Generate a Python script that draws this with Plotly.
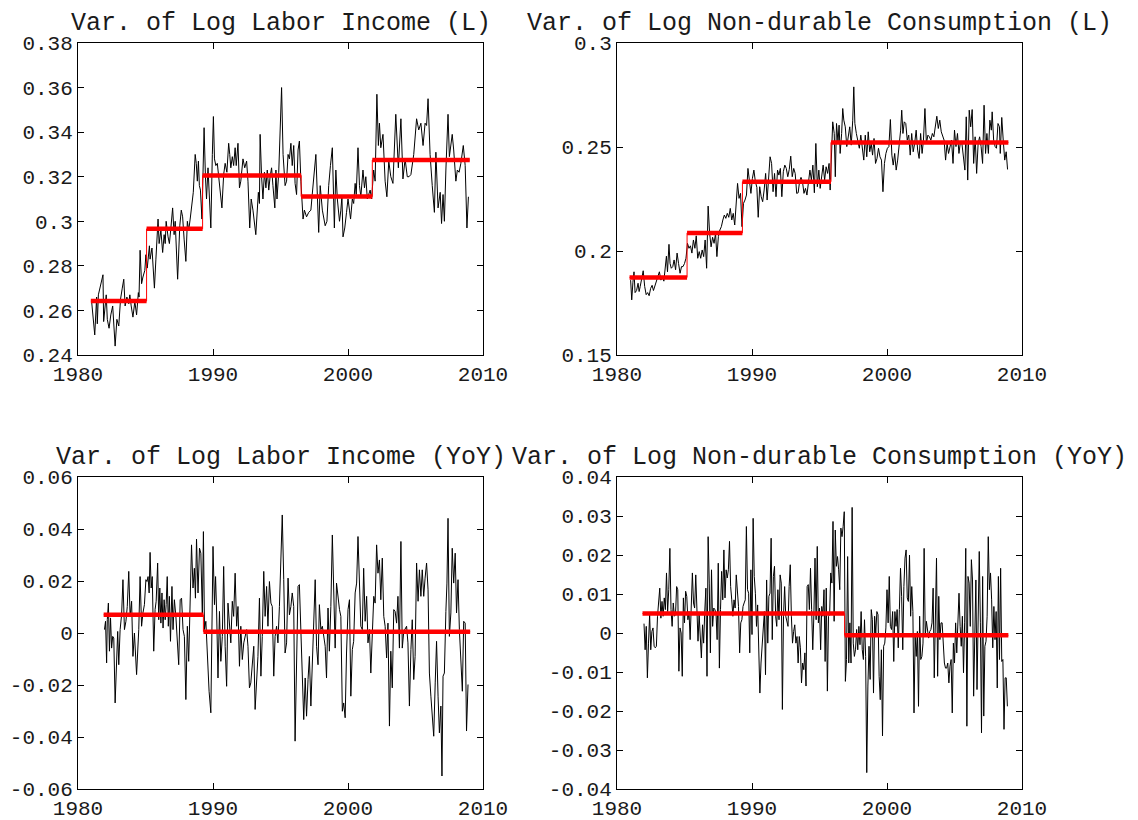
import numpy as np
import plotly.graph_objects as go

# ---------------- Variance of log labor income, levels ----------------
t_inc_lvl = [
    1981.01, 1981.24, 1981.38, 1981.43, 1981.51, 1981.64, 1981.72, 1981.85, 1981.90, 1981.98,
    1982.09, 1982.17, 1982.30, 1982.43, 1982.57, 1982.75, 1982.88, 1983.02, 1983.15, 1983.28,
    1983.39, 1983.49, 1983.62, 1983.76, 1983.84, 1983.94, 1984.07, 1984.21, 1984.34, 1984.47,
    1984.52, 1984.60, 1984.71, 1984.81, 1984.95, 1985.03, 1985.13, 1985.29, 1985.34, 1985.48,
    1985.66, 1985.77, 1985.93, 1986.01, 1986.14, 1986.27, 1986.38, 1986.46, 1986.53, 1986.67,
    1986.77, 1986.88, 1987.01, 1987.12, 1987.20, 1987.38, 1987.54, 1987.65, 1987.75, 1987.86,
    1987.99, 1988.10, 1988.20, 1988.31, 1988.47, 1988.54, 1988.68, 1988.76, 1988.84, 1988.92,
    1988.99, 1989.07, 1989.18, 1989.34, 1989.44, 1989.52, 1989.63, 1989.74, 1989.84, 1989.95,
    1990.03, 1990.11, 1990.21, 1990.32, 1990.42, 1990.53, 1990.66, 1990.79, 1990.90, 1991.03,
    1991.16, 1991.24, 1991.32, 1991.43, 1991.53, 1991.64, 1991.72, 1991.85, 1991.96, 1992.06,
    1992.22, 1992.35, 1992.49, 1992.59, 1992.72, 1992.83, 1992.96, 1993.17, 1993.28, 1993.36,
    1993.44, 1993.49, 1993.60, 1993.70, 1993.81, 1993.92, 1994.02, 1994.13, 1994.23, 1994.34,
    1994.44, 1994.58, 1994.66, 1994.74, 1994.87, 1995.08, 1995.19, 1995.26, 1995.34, 1995.45,
    1995.56, 1995.66, 1995.77, 1995.87, 1995.98, 1996.08, 1996.19, 1996.30, 1996.40, 1996.51,
    1996.67, 1996.77, 1996.93, 1997.09, 1997.25, 1997.35, 1997.46, 1997.62, 1997.83, 1997.94,
    1998.10, 1998.31, 1998.44, 1998.57, 1998.70, 1998.84, 1998.99, 1999.10, 1999.21, 1999.37,
    1999.47, 1999.55, 1999.63, 1999.76, 1999.89, 2000.00, 2000.11, 2000.19, 2000.32, 2000.42,
    2000.53, 2000.61, 2000.74, 2000.85, 2000.95, 2001.11, 2001.22, 2001.32, 2001.43, 2001.53,
    2001.64, 2001.75, 2001.90, 2002.01, 2002.14, 2002.25, 2002.33, 2002.43, 2002.59, 2002.75,
    2002.88, 2003.02, 2003.17, 2003.33, 2003.44, 2003.54, 2003.73, 2003.92, 2004.07, 2004.23,
    2004.39, 2004.52, 2004.66, 2004.87, 2005.08, 2005.24, 2005.40, 2005.56, 2005.71, 2005.82,
    2005.93, 2006.08, 2006.24, 2006.40, 2006.51, 2006.67, 2006.83, 2006.93, 2007.04, 2007.14,
    2007.25, 2007.41, 2007.51, 2007.72, 2007.83, 2007.99, 2008.10, 2008.23, 2008.36, 2008.54,
    2008.68, 2008.81, 2008.92,
]
var_inc_lvl = [
    0.264, 0.249, 0.266, 0.254, 0.267, 0.270, 0.273, 0.276, 0.255, 0.262,
    0.267, 0.256, 0.252, 0.258, 0.262, 0.244, 0.256, 0.253, 0.265, 0.270,
    0.274, 0.262, 0.266, 0.263, 0.267, 0.262, 0.257, 0.264, 0.258, 0.268,
    0.266, 0.287, 0.272, 0.275, 0.278, 0.285, 0.279, 0.289, 0.283, 0.288,
    0.270, 0.283, 0.301, 0.290, 0.296, 0.286, 0.294, 0.290, 0.300, 0.293,
    0.290, 0.297, 0.306, 0.294, 0.300, 0.274, 0.298, 0.305, 0.302, 0.292,
    0.282, 0.300, 0.296, 0.301, 0.308, 0.313, 0.330, 0.326, 0.318, 0.327,
    0.316, 0.314, 0.301, 0.342, 0.320, 0.310, 0.324, 0.312, 0.297, 0.330,
    0.347, 0.328, 0.325, 0.326, 0.320, 0.312, 0.306, 0.321, 0.326, 0.322,
    0.335, 0.330, 0.324, 0.329, 0.325, 0.333, 0.325, 0.335, 0.315, 0.318,
    0.328, 0.324, 0.327, 0.318, 0.297, 0.310, 0.305, 0.294, 0.303, 0.313,
    0.308, 0.339, 0.320, 0.310, 0.322, 0.315, 0.323, 0.314, 0.320, 0.324,
    0.316, 0.306, 0.323, 0.310, 0.322, 0.360, 0.330, 0.323, 0.316, 0.318,
    0.330, 0.328, 0.335, 0.325, 0.334, 0.317, 0.312, 0.332, 0.336, 0.318,
    0.301, 0.305, 0.302, 0.304, 0.305, 0.312, 0.319, 0.330, 0.295, 0.316,
    0.305, 0.298, 0.300, 0.316, 0.325, 0.333, 0.297, 0.323, 0.310, 0.300,
    0.305, 0.311, 0.293, 0.297, 0.304, 0.310, 0.305, 0.301, 0.310, 0.308,
    0.317, 0.312, 0.333, 0.316, 0.311, 0.323, 0.315, 0.320, 0.310, 0.312,
    0.314, 0.310, 0.323, 0.318, 0.357, 0.334, 0.344, 0.333, 0.339, 0.318,
    0.311, 0.327, 0.320, 0.317, 0.335, 0.348, 0.324, 0.346, 0.319, 0.328,
    0.320, 0.320, 0.321, 0.330, 0.346, 0.341, 0.344, 0.334, 0.344, 0.343,
    0.355, 0.330, 0.316, 0.304, 0.331, 0.306, 0.313, 0.299, 0.312, 0.300,
    0.323, 0.348, 0.329, 0.339, 0.332, 0.318, 0.323, 0.322, 0.326, 0.334,
    0.325, 0.297, 0.311,
]
inc_lvl_breaks = [1980.95, 1985.08, 1989.23, 1996.53, 2001.80, 2009.02]
inc_lvl_means = [0.2642, 0.2966, 0.3206, 0.3111, 0.3275]

# ------------- Variance of log non-durable consumption, levels -------------
t_cons_lvl = [
    1981.01, 1981.09, 1981.18, 1981.26, 1981.34, 1981.45, 1981.56, 1981.64, 1981.72, 1981.83,
    1981.94, 1982.05, 1982.16, 1982.27, 1982.38, 1982.49, 1982.60, 1982.70, 1982.81, 1982.92,
    1983.03, 1983.14, 1983.25, 1983.36, 1983.47, 1983.58, 1983.66, 1983.74, 1983.85, 1983.93,
    1984.02, 1984.13, 1984.23, 1984.34, 1984.45, 1984.56, 1984.67, 1984.78, 1984.89, 1985.00,
    1985.11, 1985.22, 1985.33, 1985.44, 1985.55, 1985.66, 1985.77, 1985.87, 1985.98, 1986.09,
    1986.20, 1986.31, 1986.42, 1986.53, 1986.64, 1986.75, 1986.86, 1986.97, 1987.08, 1987.19,
    1987.30, 1987.40, 1987.51, 1987.62, 1987.73, 1987.84, 1987.95, 1988.06, 1988.17, 1988.28,
    1988.39, 1988.50, 1988.61, 1988.72, 1988.83, 1988.93, 1989.04, 1989.15, 1989.26, 1989.37,
    1989.48, 1989.59, 1989.70, 1989.81, 1989.92, 1990.03, 1990.14, 1990.25, 1990.36, 1990.46,
    1990.57, 1990.68, 1990.79, 1990.90, 1991.01, 1991.12, 1991.23, 1991.34, 1991.45, 1991.56,
    1991.67, 1991.78, 1991.89, 1991.99, 1992.10, 1992.21, 1992.32, 1992.43, 1992.54, 1992.65,
    1992.76, 1992.87, 1992.98, 1993.09, 1993.20, 1993.31, 1993.42, 1993.52, 1993.63, 1993.74,
    1993.85, 1993.96, 1994.07, 1994.18, 1994.29, 1994.40, 1994.51, 1994.62, 1994.73, 1994.84,
    1994.95, 1995.05, 1995.16, 1995.27, 1995.38, 1995.49, 1995.60, 1995.71, 1995.79, 1995.90,
    1995.98, 1996.09, 1996.17, 1996.26, 1996.37, 1996.45, 1996.53, 1996.64, 1996.72, 1996.80,
    1996.91, 1997.02, 1997.13, 1997.24, 1997.35, 1997.46, 1997.54, 1997.62, 1997.73, 1997.84,
    1997.95, 1998.06, 1998.17, 1998.28, 1998.39, 1998.50, 1998.61, 1998.72, 1998.83, 1998.93,
    1999.04, 1999.15, 1999.26, 1999.37, 1999.48, 1999.59, 1999.70, 1999.81, 1999.92, 2000.03,
    2000.14, 2000.25, 2000.36, 2000.46, 2000.57, 2000.68, 2000.79, 2000.90, 2001.01, 2001.09,
    2001.18, 2001.28, 2001.39, 2001.50, 2001.61, 2001.72, 2001.83, 2001.94, 2002.05, 2002.16,
    2002.27, 2002.38, 2002.49, 2002.60, 2002.70, 2002.81, 2002.92, 2003.03, 2003.14, 2003.25,
    2003.36, 2003.47, 2003.58, 2003.69, 2003.80, 2003.91, 2004.02, 2004.13, 2004.23, 2004.34,
    2004.45, 2004.56, 2004.67, 2004.78, 2004.89, 2005.00, 2005.11, 2005.22, 2005.33, 2005.44,
    2005.55, 2005.66, 2005.77, 2005.87, 2005.98, 2006.09, 2006.20, 2006.31, 2006.42, 2006.53,
    2006.64, 2006.75, 2006.86, 2006.97, 2007.08, 2007.19, 2007.30, 2007.40, 2007.51, 2007.62,
    2007.73, 2007.79, 2007.90, 2008.01, 2008.11, 2008.22, 2008.33, 2008.39, 2008.50, 2008.61,
    2008.72, 2008.83, 2008.93,
]
var_cons_lvl = [
    0.1860, 0.1765, 0.1850, 0.1900, 0.1800, 0.1810, 0.1845, 0.1805, 0.1830, 0.1860,
    0.1905, 0.1830, 0.1790, 0.1800, 0.1785, 0.1820, 0.1835, 0.1810, 0.1830, 0.1855,
    0.1870, 0.1900, 0.1860, 0.1880, 0.1855, 0.1925, 0.1975, 0.1900, 0.2032, 0.1940,
    0.1917, 0.1925, 0.1957, 0.1910, 0.1990, 0.1940, 0.1893, 0.1925, 0.1925, 0.1940,
    0.1965, 0.2037, 0.2013, 0.2025, 0.1990, 0.2053, 0.2013, 0.2073, 0.1965, 0.1997,
    0.1965, 0.2005, 0.1973, 0.2053, 0.1917, 0.2216, 0.2085, 0.2020, 0.2066, 0.2037,
    0.2085, 0.1973, 0.2070, 0.2101, 0.2117, 0.2149, 0.2173, 0.2157, 0.2181, 0.2162,
    0.2205, 0.2149, 0.2181, 0.2125, 0.2245, 0.2325, 0.2253, 0.2277, 0.2117, 0.2229,
    0.2245, 0.2269, 0.2397, 0.2317, 0.2277, 0.2349, 0.2389, 0.2333, 0.2306, 0.2162,
    0.2309, 0.2261, 0.2237, 0.2293, 0.2373, 0.2245, 0.2341, 0.2453, 0.2421, 0.2285,
    0.2373, 0.2261, 0.2389, 0.2365, 0.2397, 0.2261, 0.2381, 0.2413, 0.2397, 0.2357,
    0.2392, 0.2456, 0.2357, 0.2397, 0.2373, 0.2277, 0.2280, 0.2333, 0.2354, 0.2333,
    0.2277, 0.2301, 0.2269, 0.2317, 0.2389, 0.2341, 0.2413, 0.2280, 0.2517, 0.2309,
    0.2389, 0.2301, 0.2373, 0.2413, 0.2341, 0.2405, 0.2373, 0.2421, 0.2293, 0.2485,
    0.2621, 0.2565, 0.2357, 0.2613, 0.2524, 0.2605, 0.2469, 0.2565, 0.2685, 0.2629,
    0.2597, 0.2502, 0.2549, 0.2597, 0.2509, 0.2626, 0.2789, 0.2613, 0.2565, 0.2533,
    0.2494, 0.2557, 0.2502, 0.2437, 0.2557, 0.2453, 0.2573, 0.2477, 0.2517, 0.2461,
    0.2541, 0.2421, 0.2445, 0.2494, 0.2453, 0.2437, 0.2285, 0.2421, 0.2469, 0.2494,
    0.2502, 0.2632, 0.2461, 0.2413, 0.2469, 0.2389, 0.2437, 0.2502, 0.2581, 0.2677,
    0.2565, 0.2621, 0.2613, 0.2533, 0.2557, 0.2461, 0.2565, 0.2477, 0.2517, 0.2581,
    0.2485, 0.2445, 0.2565, 0.2469, 0.2533, 0.2685, 0.2517, 0.2557, 0.2549, 0.2533,
    0.2565, 0.2549, 0.2597, 0.2648, 0.2589, 0.2629, 0.2573, 0.2549, 0.2533, 0.2437,
    0.2517, 0.2469, 0.2502, 0.2533, 0.2421, 0.2581, 0.2502, 0.2565, 0.2469, 0.2525,
    0.2517, 0.2461, 0.2389, 0.2645, 0.2341, 0.2677, 0.2597, 0.2680, 0.2421, 0.2549,
    0.2373, 0.2517, 0.2549, 0.2502, 0.2421, 0.2701, 0.2469, 0.2565, 0.2469, 0.2629,
    0.2581, 0.2669, 0.2533, 0.2502, 0.2494, 0.2613, 0.2597, 0.2469, 0.2642, 0.2533,
    0.2437, 0.2477, 0.2392,
]
cons_lvl_breaks = [1980.93, 1985.19, 1989.29, 1995.85, 2008.99]
cons_lvl_means = [0.1873, 0.2087, 0.2333, 0.2522]

# ------------- Variance of log labor income, year-over-year -------------
t_inc_yoy = [
    1981.96, 1982.04, 1982.12, 1982.17, 1982.25, 1982.33, 1982.41, 1982.49, 1982.57, 1982.65,
    1982.75, 1982.86, 1982.94, 1983.02, 1983.12, 1983.23, 1983.33, 1983.44, 1983.55, 1983.65,
    1983.76, 1983.86, 1983.97, 1984.07, 1984.18, 1984.34, 1984.50, 1984.60, 1984.71, 1984.81,
    1984.92, 1985.03, 1985.11, 1985.19, 1985.27, 1985.34, 1985.42, 1985.50, 1985.61, 1985.71,
    1985.79, 1985.90, 1985.98, 1986.06, 1986.14, 1986.22, 1986.30, 1986.38, 1986.46, 1986.53,
    1986.61, 1986.69, 1986.77, 1986.85, 1986.96, 1987.04, 1987.14, 1987.25, 1987.35, 1987.46,
    1987.57, 1987.67, 1987.78, 1987.88, 1987.99, 1988.10, 1988.20, 1988.31, 1988.41, 1988.52,
    1988.62, 1988.70, 1988.78, 1988.89, 1989.00, 1989.10, 1989.21, 1989.29, 1989.37, 1989.47,
    1989.58, 1989.71, 1989.84, 1990.00, 1990.11, 1990.19, 1990.27, 1990.37, 1990.48, 1990.58,
    1990.69, 1990.79, 1990.90, 1991.01, 1991.11, 1991.22, 1991.32, 1991.43, 1991.53, 1991.64,
    1991.75, 1991.85, 1991.96, 1992.06, 1992.17, 1992.28, 1992.38, 1992.49, 1992.59, 1992.70,
    1992.80, 1992.91, 1993.02, 1993.12, 1993.23, 1993.33, 1993.44, 1993.55, 1993.65, 1993.76,
    1993.86, 1993.97, 1994.07, 1994.18, 1994.29, 1994.39, 1994.50, 1994.60, 1994.71, 1994.81,
    1994.92, 1995.03, 1995.13, 1995.24, 1995.34, 1995.45, 1995.56, 1995.66, 1995.77, 1995.87,
    1995.98, 1996.08, 1996.19, 1996.30, 1996.40, 1996.51, 1996.61, 1996.72, 1996.83, 1996.93,
    1997.04, 1997.14, 1997.25, 1997.35, 1997.46, 1997.57, 1997.67, 1997.78, 1997.88, 1997.99,
    1998.10, 1998.20, 1998.31, 1998.41, 1998.52, 1998.62, 1998.73, 1998.84, 1998.94, 1999.05,
    1999.15, 1999.26, 1999.37, 1999.47, 1999.58, 1999.68, 1999.79, 1999.89, 2000.00, 2000.11,
    2000.21, 2000.32, 2000.42, 2000.53, 2000.64, 2000.74, 2000.85, 2000.95, 2001.06, 2001.16,
    2001.27, 2001.38, 2001.48, 2001.59, 2001.69, 2001.80, 2001.91, 2002.01, 2002.12, 2002.22,
    2002.33, 2002.43, 2002.54, 2002.65, 2002.75, 2002.86, 2002.96, 2003.07, 2003.17, 2003.28,
    2003.39, 2003.49, 2003.60, 2003.70, 2003.81, 2003.92, 2004.02, 2004.13, 2004.23, 2004.34,
    2004.44, 2004.55, 2004.66, 2004.76, 2004.87, 2004.97, 2005.08, 2005.19, 2005.29, 2005.40,
    2005.50, 2005.61, 2005.71, 2005.82, 2005.93, 2006.03, 2006.14, 2006.24, 2006.35, 2006.46,
    2006.56, 2006.67, 2006.77, 2006.88, 2006.96, 2007.04, 2007.14, 2007.25, 2007.33, 2007.41,
    2007.51, 2007.62, 2007.72, 2007.83, 2007.94, 2008.04, 2008.15, 2008.25, 2008.36, 2008.47,
    2008.57, 2008.68, 2008.78, 2008.89,
]
var_inc_yoy = [
    0.0013, 0.0045, -0.0115, 0.0051, 0.0115, -0.0070, 0.0058, -0.0058, -0.0013, -0.0019,
    -0.0269, -0.0115, 0.0006, -0.0122, 0.0013, 0.0070, 0.0205, 0.0013, 0.0045, 0.0102,
    0.0237, 0.0064, 0.0122, -0.0090, 0.0000, -0.0160, 0.0013, 0.0217, 0.0026, 0.0077,
    0.0109, 0.0205, 0.0198, 0.0217, 0.0154, 0.0310, 0.0173, 0.0217, -0.0070, 0.0090,
    0.0122, 0.0269, 0.0051, 0.0173, 0.0038, 0.0154, 0.0019, 0.0128, 0.0051, 0.0109,
    0.0217, 0.0026, 0.0141, -0.0032, 0.0179, 0.0013, 0.0128, 0.0064, -0.0026, -0.0122,
    0.0128, 0.0134, 0.0013, -0.0013, -0.0256, 0.0026, -0.0109, 0.0205, 0.0339, 0.0173,
    0.0249, 0.0134, 0.0361, 0.0154, 0.0326, 0.0307, 0.0070, 0.0390, 0.0013, 0.0045,
    -0.0115, -0.0224, -0.0307, 0.0333, 0.0109, 0.0217, 0.0077, -0.0173, 0.0083, -0.0109,
    -0.0013, 0.0256, -0.0051, -0.0205, 0.0115, 0.0013, -0.0038, 0.0122, 0.0064, 0.0230,
    0.0026, 0.0102, -0.0128, 0.0026, -0.0102, -0.0038, -0.0013, 0.0013, -0.0051, -0.0211,
    -0.0192, -0.0115, -0.0051, -0.0294, -0.0166, -0.0090, 0.0134, -0.0166, -0.0013, 0.0237,
    0.0064, 0.0179, 0.0026, 0.0198, 0.0115, 0.0102, -0.0166, -0.0013, 0.0026, -0.0038,
    0.0102, 0.0269, 0.0454, 0.0205, -0.0077, -0.0038, 0.0211, 0.0070, 0.0102, 0.0154,
    0.0102, -0.0416, -0.0051, 0.0179, 0.0186, -0.0026, -0.0115, -0.0333, -0.0173, -0.0320,
    -0.0179, -0.0090, -0.0281, -0.0141, 0.0064, 0.0205, -0.0051, -0.0122, 0.0109, 0.0013,
    0.0026, -0.0013, -0.0051, -0.0173, 0.0096, -0.0070, 0.0102, 0.0377, 0.0141, -0.0058,
    0.0192, 0.0134, 0.0090, 0.0064, -0.0301, -0.0269, -0.0326, -0.0077, 0.0090, 0.0128,
    -0.0243, -0.0064, -0.0032, 0.0154, 0.0192, 0.0371, 0.0141, 0.0026, 0.0013, 0.0249,
    0.0045, 0.0141, -0.0038, 0.0013, -0.0154, -0.0006, 0.0141, 0.0115, 0.0339, 0.0230,
    0.0281, 0.0128, 0.0288, 0.0064, 0.0026, -0.0096, 0.0038, -0.0358, -0.0070, -0.0211,
    0.0090, 0.0083, 0.0038, 0.0141, -0.0058, 0.0352, -0.0058, 0.0006, 0.0019, 0.0026,
    -0.0038, -0.0281, -0.0064, 0.0051, -0.0179, -0.0090, 0.0269, 0.0122, 0.0243, 0.0141,
    0.0243, 0.0141, 0.0211, 0.0269, 0.0166, -0.0154, -0.0243, -0.0307, -0.0397, -0.0192,
    -0.0032, -0.0243, -0.0384, -0.0281, -0.0550, -0.0166, -0.0154, 0.0083, 0.0192, 0.0441,
    -0.0013, 0.0077, 0.0326, 0.0192, 0.0307, 0.0077, 0.0205, 0.0013, -0.0102, -0.0224,
    0.0045, 0.0038, -0.0377, -0.0198,
]
inc_yoy_breaks = [1981.90, 1989.29, 2009.05]
inc_yoy_means = [0.0070, 0.0005]

# ---- Variance of log non-durable consumption, year-over-year (monthly from 1982:01) ----
cons_yoy_start = 1982.0
var_cons_yoy = [
    0.0024, -0.0043, 0.0017, -0.0115, -0.0026, 0.0047, -0.0043, 0.0004, 0.0013, -0.0034,
    -0.0038, -0.0034, 0.0043, 0.0077, 0.0115, 0.0038, 0.0081, 0.0043, 0.0090, 0.0060,
    0.0154, 0.0055, 0.0111, 0.0217, 0.0060, 0.0017, 0.0077, 0.0043, 0.0047, 0.0119,
    0.0111, -0.0098, 0.0013, 0.0000, -0.0111, 0.0090, 0.0026, 0.0107, 0.0094, 0.0034,
    0.0055, -0.0017, 0.0090, 0.0154, 0.0077, 0.0064, 0.0149, 0.0064, -0.0021, 0.0047,
    -0.0021, -0.0064, 0.0021, -0.0026, 0.0055, 0.0115, -0.0111, 0.0247, 0.0128, -0.0051,
    0.0162, 0.0017, 0.0064, 0.0060, 0.0051, -0.0017, 0.0179, -0.0090, 0.0060, 0.0158,
    0.0085, 0.0213, 0.0090, 0.0162, 0.0141, 0.0162, 0.0235, 0.0119, 0.0085, 0.0043,
    0.0085, 0.0064, 0.0149, 0.0098, 0.0068, -0.0051, 0.0026, 0.0034, 0.0068, 0.0077,
    0.0085, 0.0273, 0.0111, 0.0102, -0.0051, 0.0162, -0.0004, 0.0294, 0.0145, 0.0102,
    0.0017, 0.0072, -0.0077, -0.0154, -0.0077, -0.0034, -0.0009, 0.0055, -0.0107, 0.0136,
    -0.0026, 0.0094, 0.0102, 0.0243, -0.0017, 0.0145, 0.0171, 0.0043, 0.0017, 0.0111,
    0.0034, 0.0149, 0.0128, -0.0196, 0.0043, 0.0119, 0.0043, 0.0026, 0.0017, 0.0119,
    0.0175, 0.0043, -0.0026, 0.0004, 0.0021, -0.0026, -0.0009, -0.0077, -0.0009, -0.0038,
    -0.0128, -0.0077, -0.0094, -0.0051, -0.0136, 0.0119, 0.0124, 0.0060, 0.0166, 0.0060,
    -0.0043, 0.0047, 0.0192, 0.0034, 0.0222, 0.0026, 0.0064, -0.0043, 0.0068, 0.0043,
    0.0111, -0.0073, 0.0115, -0.0149, 0.0043, 0.0047, 0.0154, 0.0128, 0.0286, 0.0030,
    0.0264, 0.0171, 0.0196, 0.0162, 0.0111, 0.0269, 0.0247, 0.0273, 0.0311, -0.0124,
    -0.0068, 0.0196, -0.0077, 0.0026, -0.0077, 0.0322, -0.0026, -0.0060, -0.0043, 0.0009,
    -0.0043, 0.0017, -0.0030, 0.0055, -0.0043, -0.0068, 0.0034, -0.0060, -0.0358, -0.0136,
    -0.0034, -0.0119, 0.0060, 0.0034, -0.0154, 0.0043, 0.0000, 0.0055, 0.0047, -0.0111,
    -0.0171, -0.0043, -0.0264, -0.0034, -0.0026, 0.0013, 0.0111, 0.0026, 0.0145, 0.0017,
    0.0009, 0.0055, -0.0073, 0.0055, 0.0017, 0.0060, -0.0038, 0.0060, 0.0166, 0.0094,
    -0.0043, 0.0119, 0.0192, 0.0213, 0.0090, 0.0081, 0.0200, 0.0043, 0.0119, 0.0055,
    -0.0205, -0.0009, -0.0060, 0.0004, -0.0188, 0.0043, -0.0068, -0.0060, -0.0026, 0.0217,
    -0.0009, 0.0030, 0.0000, -0.0013, 0.0004, 0.0009, 0.0026, 0.0115, -0.0115, 0.0055,
    0.0192, -0.0111, 0.0094, -0.0017, 0.0026, 0.0026, -0.0034, -0.0077, -0.0090, -0.0090,
    -0.0077, -0.0128, -0.0085, -0.0068, -0.0205, -0.0026, -0.0077, 0.0026, -0.0051, 0.0009,
    0.0102, 0.0017, -0.0034, 0.0043, -0.0102, 0.0026, 0.0217, -0.0239, 0.0145, 0.0128,
    0.0017, 0.0188, 0.0136, -0.0162, 0.0009, 0.0136, -0.0145, -0.0009, 0.0209, 0.0026,
    -0.0256, 0.0145, -0.0213, -0.0034, -0.0021, 0.0043, 0.0247, 0.0111, 0.0154, 0.0085,
    -0.0038, 0.0068, -0.0017, 0.0055, -0.0141, 0.0145, -0.0068, 0.0166, -0.0073, -0.0068,
    -0.0247, -0.0115, -0.0115, -0.0188,
]
cons_yoy_breaks = [1981.89, 1996.86, 2008.99]
cons_yoy_means = [0.0050, -0.0006]

# ---------------- axis setup ----------------
titles = [
    "Var. of Log Labor Income (L)",
    "Var. of Log Non-durable Consumption (L)",
    "Var. of Log Labor Income (YoY)",
    "Var. of Log Non-durable Consumption (YoY)",
]
x_ticks = [1980, 1990, 2000, 2010]
y_ticks = [
    [0.24, 0.26, 0.28, 0.30, 0.32, 0.34, 0.36, 0.38],
    [0.15, 0.20, 0.25, 0.30],
    [-0.06, -0.04, -0.02, 0.0, 0.02, 0.04, 0.06],
    [-0.04, -0.03, -0.02, -0.01, 0.0, 0.01, 0.02, 0.03, 0.04],
]
y_tick_text = [
    ["0.24", "0.26", "0.28", "0.3", "0.32", "0.34", "0.36", "0.38"],
    ["0.15", "0.2", "0.25", "0.3"],
    ["-0.06", "-0.04", "-0.02", "0", "0.02", "0.04", "0.06"],
    ["-0.04", "-0.03", "-0.02", "-0.01", "0", "0.01", "0.02", "0.03", "0.04"],
]

W, H = 1138, 820
col_px = [(78, 483), (617, 1022)]
row_px = [(43, 355), (477, 789)]

FONT = "Liberation Mono, Courier New, monospace"
TEXT_COLOR = "#1a1a1a"

fig = go.Figure()


def add_series(idx, t, v, breaks, means):
    ax = "" if idx == 0 else str(idx + 1)
    xa, ya = "x" + ax, "y" + ax
    fig.add_trace(go.Scatter(x=t, y=v, mode="lines",
                             line=dict(color="black", width=1),
                             xaxis=xa, yaxis=ya, hoverinfo="skip"))
    # thin red connectors between regimes
    fig.add_trace(go.Scatter(x=breaks, y=list(means) + [means[-1]], mode="lines",
                             line=dict(color="red", width=1, shape="hv"),
                             xaxis=xa, yaxis=ya, hoverinfo="skip"))
    # thick red regime means
    sx, sy = [], []
    for a, b, m in zip(breaks[:-1], breaks[1:], means):
        sx += [a, b, None]
        sy += [m, m, None]
    fig.add_trace(go.Scatter(x=sx, y=sy, mode="lines",
                             line=dict(color="red", width=4.5),
                             xaxis=xa, yaxis=ya, hoverinfo="skip"))


t_cons_yoy = cons_yoy_start + np.arange(len(var_cons_yoy)) / 12.0

add_series(0, t_inc_lvl, var_inc_lvl, inc_lvl_breaks, inc_lvl_means)
add_series(1, t_cons_lvl, var_cons_lvl, cons_lvl_breaks, cons_lvl_means)
add_series(2, t_inc_yoy, var_inc_yoy, inc_yoy_breaks, inc_yoy_means)
add_series(3, t_cons_yoy, var_cons_yoy, cons_yoy_breaks, cons_yoy_means)

common = dict(showline=True, linecolor="black", linewidth=1, mirror="ticks",
              ticks="inside", ticklen=6, tickwidth=1, tickcolor="black",
              showgrid=False, zeroline=False, fixedrange=True, automargin=False,
              tickfont=dict(family=FONT, size=21, color=TEXT_COLOR))

layout = dict(width=W, height=H, margin=dict(l=0, r=0, t=0, b=0, autoexpand=False),
              paper_bgcolor="white", plot_bgcolor="white", showlegend=False)
annotations = []
for i in range(4):
    r, c = divmod(i, 2)
    x0, x1 = col_px[c]
    y0, y1 = row_px[r]
    xd = [x0 / W, x1 / W]
    yd = [1 - y1 / H, 1 - y0 / H]
    sfx = "" if i == 0 else str(i + 1)
    layout["xaxis" + sfx] = dict(common, domain=xd, range=[1980, 2010],
                                 tickvals=x_ticks, ticktext=[str(v) for v in x_ticks],
                                 anchor="y" + sfx)
    layout["yaxis" + sfx] = dict(common, domain=yd,
                                 range=[y_ticks[i][0], y_ticks[i][-1]],
                                 tickvals=y_ticks[i], ticktext=y_tick_text[i],
                                 anchor="x" + sfx)
    annotations.append(dict(text=titles[i], xref="paper", yref="paper",
                            x=(xd[0] + xd[1]) / 2, y=yd[1], xanchor="center",
                            yanchor="bottom", yshift=3, showarrow=False,
                            font=dict(family=FONT, size=25, color=TEXT_COLOR)))
layout["annotations"] = annotations
fig.update_layout(**layout)

fig.write_html("out.html")
